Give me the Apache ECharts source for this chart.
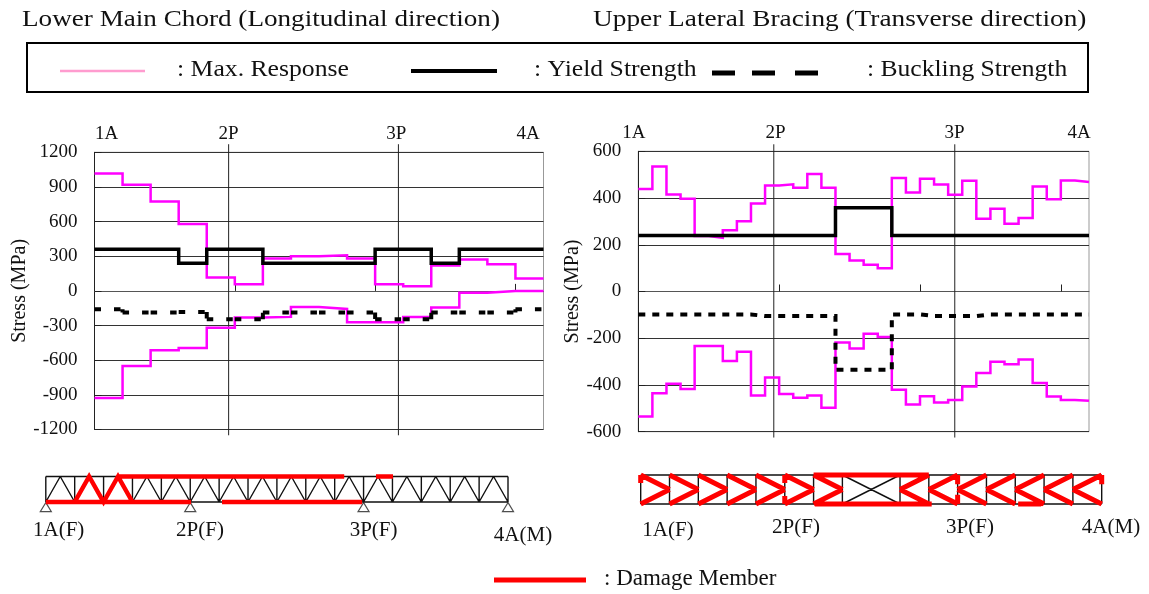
<!DOCTYPE html>
<html><head><meta charset="utf-8">
<style>html,body{margin:0;padding:0;background:#fff}#c{width:1149px;height:594px}</style>
<script src="https://cdn.jsdelivr.net/npm/echarts@6/dist/echarts.min.js"></script>
</head><body><div id="c"></div>
<script>
// ---- data ----
const chordMaxTop = [1016,918,774,580,115,58,280,300,309,280,58,40,219,271,231,107];
const chordMaxBottom = [-927,-650,-514,-494,-318,-231,-225,-139,-156,-271,-271,-225,-144,-17,0,0];
const chordYield = [360,360,360,240,360,360,240,240,240,240,360,360,240,360,360,360];
const chordBuckling = [-159,-187,-187,-183,-245,-245,-187,-187,-187,-187,-245,-245,-187,-187,-187,-159];
const braceMaxTop = [439,535,415,397,238,230,262,301,377,454,459,444,503,444,161,133,114,100,486,424,482,458,414,474,311,354,290,315,449,395,475,469];
const braceMaxBottom = [-535,-435,-395,-417,-233,-233,-297,-258,-445,-368,-439,-455,-445,-498,-218,-244,-181,-195,-421,-484,-448,-475,-464,-407,-349,-301,-311,-291,-392,-449,-464,-468];
const braceYield = [240,240,240,240,240,240,240,240,240,240,240,240,240,240,358,358,358,358,240,240,240,240,240,240,240,240,240,240,240,240,240,240];
const braceBuckling = [-98,-98,-98,-98,-98,-98,-98,-98,-105,-105,-105,-105,-105,-105,-335,-335,-335,-335,-98,-98,-105,-105,-105,-105,-98,-98,-98,-98,-98,-98,-98,-98];
const chordPierX = [4.78,10.83];
const bracePierX = [9.62,22.47];
const pierLabels = ['1A','2P','3P','4A'];
const chordPierLabelX = [0.43,4.78,10.75,15.45];
const bracePierLabelX = [0,9.75,22.45,31.3];
const chordTicks = [0,5,10,15];
const braceTicks = [0,10,20,30];
const trussSupports = [0,5,11,16];
const chordRedBottom = [[0,5.03],[6.1,10.95]];
const chordRedTop = [[2.53,10.33],[11.43,12.02]];
const chordRedDiag = [[1,0],[1.5,1],[2,0],[2.5,1],[3,0]];
const braceLeftPanels = [0,1,2,3,4,5,6];
const braceRightPanels = [9,10,11,12,13,14,15];
const braceStubs = [[0,1,0,.72],[5,1,5,.72],[5,.28,5,0],[11,1,11,.68],[11,.32,11,0],[16,1,16,.68]];
const braceRedChords = [[6,1,10,1],[6.05,0,10.1,0],[13.1,0,13.9,0]];

// ---- helpers ----
const GAP = [null,null];
const steps = a => a.flatMap((v,i)=>[[i,v],[i+1,v]]);
const brokenSteps = a => a.flatMap((v,i)=>{
  const out=[];
  if(i>0 && a[i-1]!==v) out.push([i,a[i-1]],[i,v],GAP);
  out.push([i,v],[i+1,v],GAP);
  return out;
});
const segs = list => list.flatMap(s=>[[s[0],s[1]],[s[2],s[3]],GAP]);
const serif = '"Liberation Serif","Times New Roman",serif';
const MAG='#ff00ff', RED='#ff0000';

function line(name,data,grid,color,width,dash,extra){
  return Object.assign({type:'line',name,data,xAxisIndex:grid.x,yAxisIndex:grid.y,symbol:'none',
    silent:true,animation:false,clip:false,connectNulls:false,
    lineStyle:{color,width,type:dash||'solid',cap:'butt',join:'miter'}},extra||{});
}
const G0={x:0,y:0},G1={x:2,y:1},T0={x:4,y:2},T1={x:5,y:3};

const plotAxisY=(i,min,max,interval,gap)=>({type:'value',gridIndex:i,min,max,interval,
  name:'Stress (MPa)',nameLocation:'middle',nameRotate:90,nameGap:gap,
  nameTextStyle:{fontFamily:serif,fontSize:20,color:'#111'},
  axisLine:{show:true,onZero:false,lineStyle:{color:'#222',width:1}},
  axisTick:{show:true,inside:true,length:7,lineStyle:{color:'#222'}},
  axisLabel:{fontFamily:serif,fontSize:19,color:'#111',margin:17,formatter:v=>String(v)},
  splitLine:{show:true,lineStyle:{color:'#333',width:1}}});
const zeroAxisX=(i,max,interval,ticks)=>({type:'value',gridIndex:i,min:0,max,interval,
  axisLine:{show:true,onZero:true,lineStyle:{color:'#555',width:1}},
  axisTick:{show:true,inside:true,length:7,customValues:ticks,lineStyle:{color:'#222'}},
  axisLabel:{show:false},splitLine:{show:false}});
const topAxisX=(i,max,vals,firstPad)=>({type:'value',gridIndex:i,min:0,max,position:'top',
  axisLine:{show:false,onZero:false},axisTick:{show:false},splitLine:{show:false},
  axisLabel:{show:true,showMinLabel:true,showMaxLabel:true,hideOverlap:false,customValues:vals,margin:9,fontFamily:serif,fontSize:19,color:'#111',
    rich:{first:{fontFamily:serif,fontSize:19,color:'#111',padding:[0,firstPad,0,0]}},
    formatter:v=>{const k=vals.indexOf(v);return k===0&&firstPad?'{first|'+pierLabels[k]+'}':pierLabels[k];}}});
const hiddenX=i=>({type:'value',gridIndex:i,min:0,max:16,show:false});
const hiddenY=i=>({type:'value',gridIndex:i,min:0,max:1,show:false});

// truss geometry
const panelPosts=[0,1,2,3,4,5,6,7,8,9,10,11,12,13,14,15,16];
const chordBlack=segs([[0,1,16,1],[0,0,16,0]].concat(
  panelPosts.map(p=>[p,0,p,1]),
  panelPosts.slice(0,16).flatMap(p=>[[p,0,p+.5,1],[p+.5,1,p+1,0]])));
const braceBlack=segs([[0,1,16,1],[0,0,16,0],[7,1,9,0],[7,0,9,1]].concat(
  panelPosts.filter(p=>p!==8).map(p=>[p,0,p,1])));
const chordRed=segs(chordRedBottom.map(s=>[s[0],0,s[1],0]).concat(chordRedTop.map(s=>[s[0],1,s[1],1]))).concat(chordRedDiag);
const braceRed=segs(braceStubs.concat(braceRedChords,
  braceLeftPanels.flatMap(p=>[[p,1,p+1,.5],[p,0,p+1,.5]]),
  braceRightPanels.flatMap(p=>[[p,.5,p+1,1],[p,.5,p+1,0]])));

const txt=(text,x,y,size,align,sx)=>({type:'text',silent:true,x,y,scaleX:sx||1,style:{text,x:0,y:0,fill:'#111',font:size+'px '+serif,textAlign:align||'left',textVerticalAlign:'middle'}});
const ln=(x1,y1,x2,y2,color,w)=>({type:'line',silent:true,shape:{x1,y1,x2,y2},style:{stroke:color,lineWidth:w}});

const chart=echarts.init(document.getElementById('c'),null,{renderer:'canvas'});
chart.setOption({
  animation:false,backgroundColor:'#fff',
  grid:[
    {left:94.5,top:152.3,width:449,height:277.2,show:true,borderColor:'#999',borderWidth:1,backgroundColor:'transparent'},
    {left:638.3,top:151.3,width:450.7,height:280.4,show:true,borderColor:'#999',borderWidth:1,backgroundColor:'transparent'},
    {left:45.8,top:476.5,width:462.2,height:25.5},
    {left:640.7,top:475,width:461,height:29}
  ],
  xAxis:[zeroAxisX(0,16,5,chordTicks),topAxisX(0,16,chordPierLabelX,0),zeroAxisX(1,32,10,braceTicks),topAxisX(1,32,bracePierLabelX,9),hiddenX(2),hiddenX(3)],
  yAxis:[plotAxisY(0,-1200,1200,300,65),plotAxisY(1,-600,600,200,55),hiddenY(2),hiddenY(3)],
  series:[
    line('2P',[[chordPierX[0],1270],[chordPierX[0],-1250]],G0,'#222',1),
    line('3P',[[chordPierX[1],1270],[chordPierX[1],-1250]],G0,'#222',1),
    line('Max. Response',steps(chordMaxTop),G0,MAG,2.5),
    line('Max. Response',steps(chordMaxBottom),G0,MAG,2.5),
    line('Yield Strength',steps(chordYield),G0,'#000',3.5),
    line('Buckling Strength',brokenSteps(chordBuckling),G0,'#000',4,[6.5,13]),
    line('2P',[[bracePierX[0],630],[bracePierX[0],-625]],G1,'#222',1),
    line('3P',[[bracePierX[1],630],[bracePierX[1],-625]],G1,'#222',1),
    line('Max. Response',steps(braceMaxTop),G1,MAG,2.5),
    line('Max. Response',steps(braceMaxBottom),G1,MAG,2.5),
    line('Yield Strength',steps(braceYield),G1,'#000',3.5),
    line('Buckling Strength',steps(braceBuckling),G1,'#000',4,[7,7]),
    line('Truss',chordBlack,T0,'#111',1.4),
    line('Damage Member',chordRed,T0,RED,4.5),
    {type:'scatter',name:'Supports',xAxisIndex:4,yAxisIndex:2,silent:true,animation:false,clip:false,symbol:'triangle',symbolSize:[11,9],
      data:trussSupports.map(s=>[s,-0.2]),itemStyle:{color:'#fff',borderColor:'#222',borderWidth:1.2}},
    line('Truss',braceBlack,T1,'#111',1.4),
    line('Damage Member',braceRed,T1,RED,5)
  ],
  graphic:[
    txt('Lower Main Chord (Longitudinal direction)',22,20,24,'left',1.131),
    txt('Upper Lateral Bracing (Transverse direction)',593,20,24,'left',1.138),
    {type:'rect',silent:true,shape:{x:27,y:43,width:1061,height:49},style:{fill:'none',stroke:'#000',lineWidth:2}},
    ln(60,71,145,71,'#ff9ccf',2.5),
    txt(': Max. Response',177,70,24,'left',1.07),
    ln(411,71,497,71,'#000',4),
    txt(': Yield Strength',534,70,24,'left',1.07),
    ln(712,73,735,73,'#000',5),ln(752,73,775,73,'#000',5),ln(795,73,818,73,'#000',5),
    txt(': Buckling Strength',867,70,24,'left',1.065),
    txt('1A(F)',58.7,530,21,'center'),
    txt('2P(F)',200,530,21,'center'),
    txt('3P(F)',373.6,530,21,'center'),
    txt('4A(M)',523,535,21,'center'),
    txt('1A(F)',668,530,21,'center'),
    txt('2P(F)',796,527,21,'center'),
    txt('3P(F)',970,527,21,'center'),
    txt('4A(M)',1111,527,21,'center'),
    ln(494,580,586,580,RED,5),
    txt(': Damage Member',604,579,23)
  ]
});
</script></body></html>
